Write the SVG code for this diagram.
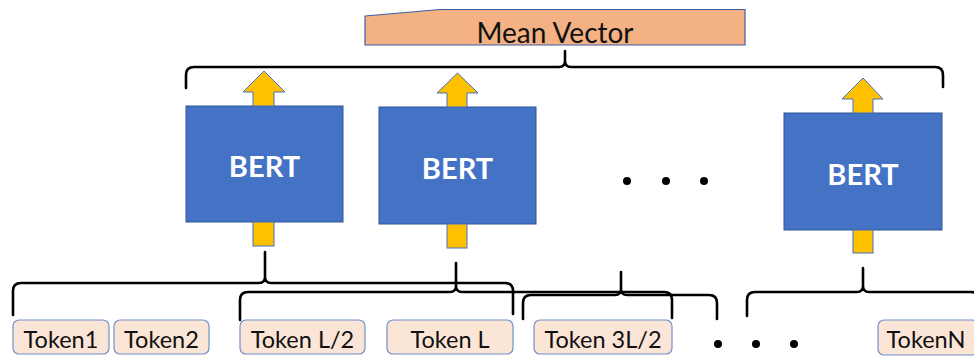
<svg xmlns="http://www.w3.org/2000/svg" width="974" height="356" viewBox="0 0 974 356">
  <style>
    .bert rect { fill: #4472C4; stroke: #2F5597; stroke-width: 1; }
    .bert text { fill: #FFFFFF; font-family: Lato, "Open Sans", sans-serif; font-weight: bold; font-size: 29px; text-anchor: middle; }
    .arrow { fill: #FFC000; stroke: #4472C4; stroke-width: 1; }
    .token rect { fill: #FBE5D6; stroke: #7290CC; stroke-width: 1.2; }
    .token text { fill: #111111; font-family: Lato, "Open Sans", sans-serif; font-size: 23.5px; text-anchor: middle; }
    .brace { fill: none; stroke: #000000; stroke-width: 2.6; stroke-linejoin: round; stroke-linecap: round; }
    .dot { fill: #000000; }
  </style>

  <!-- Output block -->
  <g id="mean-vector">
    <path d="M365,16 L440,9.5 L745,9.5 L745,45 L365,45 Z" fill="#F4B183" stroke="#3B5EA8" stroke-width="1.2"/>
    <text x="555" y="43" font-family="Lato, 'Open Sans', sans-serif" font-size="28" text-anchor="middle" fill="#111111">Mean Vector</text>
  </g>

  <!-- Encoders -->
  <g id="bert-1" class="bert">
    <rect x="186" y="106" width="157" height="116"/>
    <text x="264.5" y="177">BERT</text>
  </g>
  <g id="bert-2" class="bert">
    <rect x="379" y="107" width="157" height="117"/>
    <text x="457.5" y="178.5">BERT</text>
  </g>
  <g id="bert-n" class="bert">
    <rect x="784" y="113" width="158" height="117"/>
    <text x="863" y="185">BERT</text>
  </g>

  <!-- Ellipses -->
  <g id="ellipsis-mid">
    <circle class="dot" cx="627" cy="181" r="4"/>
    <circle class="dot" cx="666" cy="181" r="4"/>
    <circle class="dot" cx="704" cy="181" r="4"/>
  </g>
  <g id="ellipsis-bottom">
    <circle class="dot" cx="718" cy="344" r="4"/>
    <circle class="dot" cx="756" cy="344" r="4"/>
    <circle class="dot" cx="794" cy="344" r="4"/>
  </g>

  <!-- Input tokens -->
  <g id="token-1" class="token">
    <rect x="13" y="320" width="96" height="34" rx="6"/>
    <text x="61" y="348">Token1</text>
  </g>
  <g id="token-2" class="token">
    <rect x="114" y="320" width="95" height="34" rx="6"/>
    <text x="161.5" y="348">Token2</text>
  </g>
  <g id="token-l2" class="token">
    <rect x="240" y="320" width="125" height="34" rx="6"/>
    <text x="302.5" y="348">Token L/2</text>
  </g>
  <g id="token-l" class="token">
    <rect x="387" y="320" width="126" height="34" rx="6"/>
    <text x="450" y="348">Token L</text>
  </g>
  <g id="token-3l2" class="token">
    <rect x="534" y="320" width="138" height="34" rx="6"/>
    <text x="603" y="348">Token 3L/2</text>
  </g>
  <g id="token-n" class="token">
    <rect x="878" y="320" width="100" height="35" rx="6"/>
    <text x="926" y="348">TokenN</text>
  </g>

  <!-- Connectors: block arrows and braces -->
  <g id="connectors">
    <!-- arrows out of each encoder -->
    <path class="arrow" d="M253,106 L253,92 L243,92 L264,71 L285,92 L274,92 L274,106 Z"/>
    <path class="arrow" d="M447,107 L447,93 L437,93 L457.5,73 L478,93 L467,93 L467,107 Z"/>
    <path class="arrow" d="M853,113 L853,99 L842,99 L863,78 L883,99 L873,99 L873,113 Z"/>
    <!-- arrows into each encoder -->
    <rect class="arrow" x="253" y="222" width="21" height="24"/>
    <rect class="arrow" x="447" y="224" width="20" height="24"/>
    <rect class="arrow" x="853" y="230" width="20" height="23"/>

    <!-- brace gathering the encoder outputs -->
    <path class="brace" d="M186,88 L186,75 Q186,67 194,67 L559,67 Q565,67 565,61 L565,51 M565,61 Q565,67 571,67 L935,67 Q943,67 943,75 L943,87"/>

    <!-- braces over token windows -->
    <path class="brace" d="M13,315 L13,291 Q13,283 21,283 L259,283 Q265,283 265,277 L265,252 M265,277 Q265,283 271,283 L505,283 Q513,283 513,291 L513,314"/>
    <path class="brace" d="M240,320 L240,300 Q240,292 248,292 L450,292 Q456,292 456,286 L456,263 M456,286 Q456,292 462,292 L664,292 Q672,292 672,300 L672,318"/>
    <path class="brace" d="M523,319 L523,303 Q523,295 531,295 L615,295 Q621,295 621,289 L621,272 M621,289 Q621,295 627,295 L709,295 Q717,295 717,303 L717,319"/>
    <path class="brace" d="M747,316 L747,300 Q747,292 755,292 L857,292 Q863,292 863,286 L863,268 M863,286 Q863,292 869,292 L971,292 Q979,292 979,300 L979,316"/>
  </g>
</svg>
